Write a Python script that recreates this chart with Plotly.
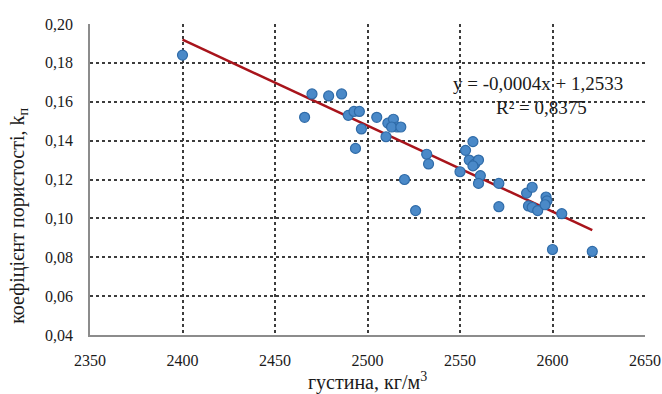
import plotly.graph_objects as go
import numpy as np

density = [2400, 2466, 2470, 2479, 2486, 2489.6, 2492.7, 2495.6, 2496.7, 2493.5,
           2505, 2511, 2514, 2516, 2513, 2518, 2510, 2520, 2526, 2532, 2533,
           2557, 2553, 2555, 2558, 2560, 2557, 2550, 2561, 2560, 2571, 2571,
           2586, 2589, 2587, 2589, 2592, 2596.5, 2597, 2596, 2605, 2600, 2621.5]
porosity = [0.184, 0.152, 0.164, 0.163, 0.164, 0.153, 0.155, 0.155, 0.146, 0.136,
            0.152, 0.149, 0.151, 0.147, 0.147, 0.147, 0.142, 0.120, 0.104, 0.133, 0.128,
            0.1395, 0.135, 0.130, 0.128, 0.130, 0.127, 0.124, 0.122, 0.118, 0.118, 0.106,
            0.113, 0.116, 0.1064, 0.1057, 0.104, 0.111, 0.109, 0.107, 0.1024, 0.084, 0.083]

trend_slope = -0.000442
trend_intercept = 1.2527
equation_text = "y = -0,0004x + 1,2533"
r2_text = "R² = 0,8375"

x_title = "густина, кг/м<sup>3</sup>"
y_title = "коефіцієнт пористості, k<sub>п</sub>"

x_ticks = [2350, 2400, 2450, 2500, 2550, 2600, 2650]
y_ticks = [0.04, 0.06, 0.08, 0.10, 0.12, 0.14, 0.16, 0.18, 0.20]

FONT = "Liberation Serif, Times New Roman, serif"
TXT = "#1A1A1A"

trend_x = np.array([min(density), max(density)])
trend_y = trend_slope * trend_x + trend_intercept

fig = go.Figure()
fig.add_trace(go.Scatter(
    x=trend_x, y=trend_y, mode="lines",
    line=dict(color="#A8141B", width=2.5), hoverinfo="skip", showlegend=False))
fig.add_trace(go.Scatter(
    x=density, y=porosity, mode="markers",
    marker=dict(size=10, color="#4A89C8", line=dict(color="#2F6BA8", width=1.2)),
    showlegend=False))

axis_common = dict(
    showline=True, linecolor="#8C8C8C", linewidth=1.5, mirror=False,
    showgrid=True, gridcolor="#3C3C3C", gridwidth=1.5, griddash="dot",
    zeroline=False, ticks="", automargin=False,
    tickfont=dict(family=FONT, size=16, color=TXT),
)

fig.update_layout(
    width=662, height=394,
    margin=dict(l=90, r=17, t=24, b=59),
    paper_bgcolor="white", plot_bgcolor="white",
    separators=", ",
    font=dict(family=FONT, color=TXT),
    xaxis=dict(range=[2350, 2650], tickvals=x_ticks, tickformat="d",
               ticklabelstandoff=10,
               title=dict(text=x_title, font=dict(family=FONT, size=20, color=TXT), standoff=12),
               **axis_common),
    yaxis=dict(range=[0.04, 0.20], tickvals=y_ticks, tickformat=".2f",
               ticklabelstandoff=12, **axis_common),
    annotations=[
        dict(text=y_title, xref="paper", yref="paper", x=-0.128, y=0.383,
             textangle=-90, showarrow=False, xanchor="center", yanchor="middle",
             font=dict(family=FONT, size=20, color=TXT)),
        dict(text=equation_text, xref="paper", yref="paper", x=0.807, y=0.81,
             showarrow=False, xanchor="center", yanchor="middle",
             font=dict(family=FONT, size=19, color=TXT)),
        dict(text=r2_text, xref="paper", yref="paper", x=0.814, y=0.733,
             showarrow=False, xanchor="center", yanchor="middle",
             font=dict(family=FONT, size=19, color=TXT)),
    ],
)

fig.write_html("out.html")
